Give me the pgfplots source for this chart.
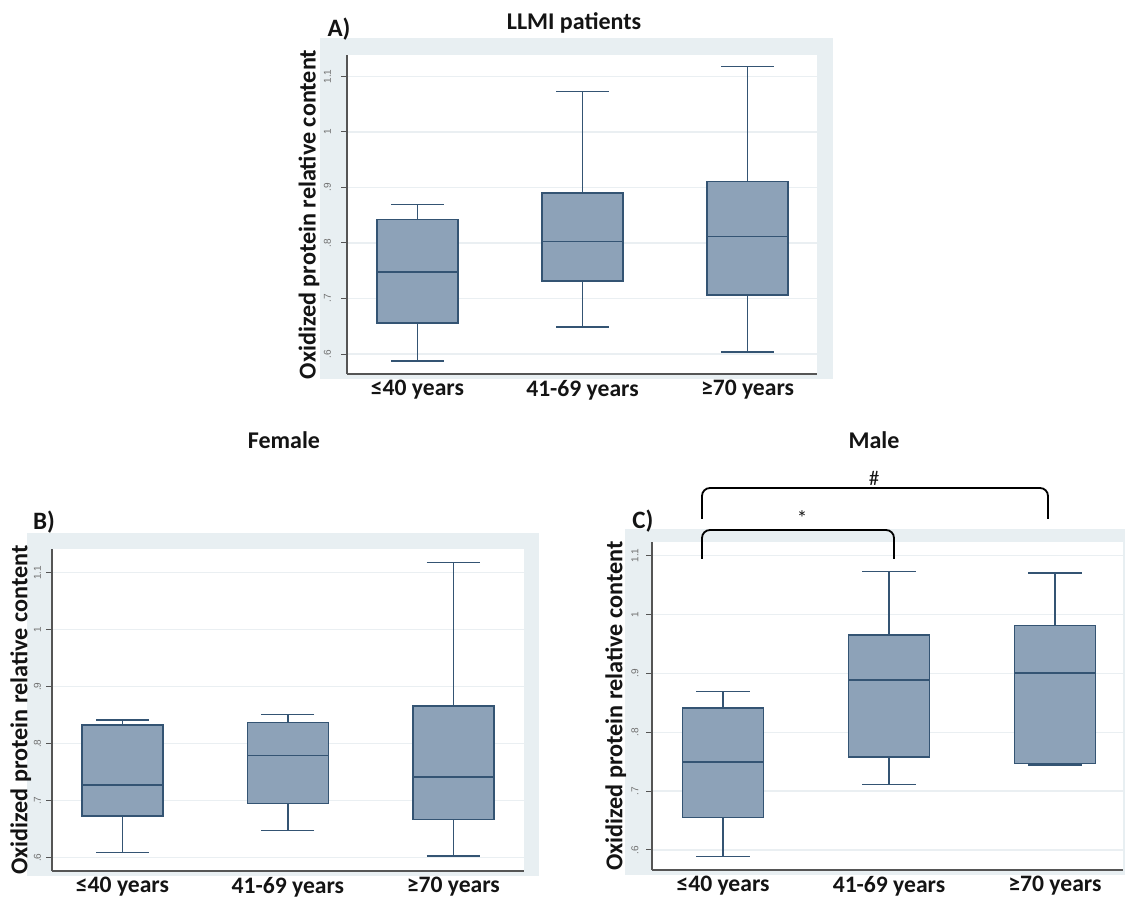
\documentclass[border=0pt]{standalone}
\usepackage{fontspec}
\setmainfont{Carlito}
\newfontfamily\tickfont{Liberation Sans}
\usepackage{pgfplots}
\pgfplotsset{compat=1.18}
\usepgfplotslibrary{statistics}

\definecolor{framec}{RGB}{232,239,242}
\definecolor{gridc}{RGB}{234,239,242}
\definecolor{boxfill}{RGB}{141,162,184}
\definecolor{boxedge}{RGB}{52,84,115}
\definecolor{axisc}{RGB}{85,85,85}
\definecolor{tickc}{RGB}{110,110,110}
\definecolor{txtc}{RGB}{20,20,20}

\newcommand{\rt}[1]{\rotatebox{90}{#1}}

\pgfplotsset{
  stbox/.style={
    scale only axis,
    anchor=south west,
    axis x line*=bottom, axis y line*=left,
    axis line style={axisc, line width=0.75pt},
    xtick={1,2,3},
    xticklabels={≤40 years, 41-69 years, ≥70 years},
    xtick style={draw=none},
    xticklabel style={font=\bfseries\fontsize{11.8}{14}\selectfont, text=txtc, yshift=3.5pt},
    ytick={0.6,0.7,0.8,0.9,1,1.1},
    yticklabels={\rt{.6},\rt{.7},\rt{.8},\rt{.9},\rt{1},\rt{1.1}},
    yticklabel style={font=\tickfont\fontsize{5}{5}\selectfont, text=tickc, anchor=east},
    ytick style={axisc, line width=0.5pt},
    tick align=outside, major tick length=3pt,
    ymajorgrids, major grid style={gridc, line width=0.6pt},
    axis background/.style={fill=white},
    boxplot/draw direction=y,
    ylabel={Oxidized protein relative content},
    ylabel style={font=\bfseries\fontsize{12.1}{14}\selectfont, text=txtc, anchor=center},
    clip=false,
  },
  bx/.style={fill=boxfill, draw=boxedge, line width=0.8pt},
}

\begin{document}
\begin{tikzpicture}
\useasboundingbox (0,0) rectangle (562.5pt,448.5pt);
\begin{scope}[shift={(0,448.5pt)}, x=0.5pt, y=-0.5pt]
  \fill[framec] (320,38) rectangle (833,379);
  \fill[framec] (27,533) rectangle (539,876);
  \fill[framec] (625,529) rectangle (1125,875);
\end{scope}

% Panel A
\begin{axis}[stbox, at={(173.5pt,261.5pt)}, width=235pt, height=159.5pt,
  xmin=0.573, xmax=3.421, ymin=0.564, ymax=1.1387,
  yticklabel style={xshift=-1.5pt},
  ylabel style={at={(axis description cs:-0.081,0.5)}}]
  \addplot[bx, boxplot prepared={draw position=1, lower whisker=0.587, lower quartile=0.656, median=0.748, upper quartile=0.842, upper whisker=0.869, box extend=0.49, whisker extend=0.32}] coordinates {};
  \addplot[bx, boxplot prepared={draw position=2, lower whisker=0.649, lower quartile=0.732, median=0.803, upper quartile=0.890, upper whisker=1.073, box extend=0.49, whisker extend=0.32}] coordinates {};
  \addplot[bx, boxplot prepared={draw position=3, lower whisker=0.604, lower quartile=0.706, median=0.812, upper quartile=0.911, upper whisker=1.118, box extend=0.49, whisker extend=0.32}] coordinates {};
\end{axis}

% Panel B
\begin{axis}[stbox, at={(26pt,13pt)}, width=236pt, height=161pt,
  xmin=0.574, xmax=3.427, ymin=0.5767, ymax=1.1416,
  yticklabel style={xshift=1pt},
  ylabel style={at={(axis description cs:-0.066,0.5)}}]
  \addplot[bx, boxplot prepared={draw position=1, lower whisker=0.609, lower quartile=0.673, median=0.728, upper quartile=0.833, upper whisker=0.842, box extend=0.49, whisker extend=0.32}] coordinates {};
  \addplot[bx, boxplot prepared={draw position=2, lower whisker=0.648, lower quartile=0.695, median=0.779, upper quartile=0.837, upper whisker=0.851, box extend=0.49, whisker extend=0.32}] coordinates {};
  \addplot[bx, boxplot prepared={draw position=3, lower whisker=0.603, lower quartile=0.667, median=0.742, upper quartile=0.866, upper whisker=1.118, box extend=0.49, whisker extend=0.32}] coordinates {};
\end{axis}

% Panel C
\begin{axis}[stbox, at={(326pt,13.5pt)}, width=235.5pt, height=164pt,
  xmin=0.572, xmax=3.41, ymin=0.566, ymax=1.123,
  yticklabel style={xshift=-0.25pt},
  ylabel style={at={(axis description cs:-0.077,0.5)}}]
  \addplot[bx, boxplot prepared={draw position=1, lower whisker=0.589, lower quartile=0.655, median=0.749, upper quartile=0.841, upper whisker=0.869, box extend=0.49, whisker extend=0.32}] coordinates {};
  \addplot[bx, boxplot prepared={draw position=2, lower whisker=0.711, lower quartile=0.758, median=0.889, upper quartile=0.965, upper whisker=1.073, box extend=0.49, whisker extend=0.32}] coordinates {};
  \addplot[bx, boxplot prepared={draw position=3, lower whisker=0.744, lower quartile=0.747, median=0.901, upper quartile=0.981, upper whisker=1.070, box extend=0.49, whisker extend=0.32}] coordinates {};
\end{axis}

\begin{scope}[shift={(0,448.5pt)}, x=0.5pt, y=-0.5pt]
  \node[font=\bfseries\fontsize{12}{14}\selectfont, text=txtc] at (574,23) {LLMI patients};
  \node[font=\bfseries\fontsize{12.5}{14}\selectfont, text=txtc] at (339,29) {A)};
  \node[font=\bfseries\fontsize{12}{14}\selectfont, text=txtc] at (284,440) {Female};
  \node[font=\bfseries\fontsize{12.5}{14}\selectfont, text=txtc] at (44,522) {B)};
  \node[font=\bfseries\fontsize{12}{14}\selectfont, text=txtc] at (874,440) {Male};
  \node[font=\bfseries\fontsize{12.5}{14}\selectfont, text=txtc] at (643,521) {C)};
  \draw[black, line width=0.9pt, rounded corners=4pt] (702,519) -- (702,488) -- (1048,488) -- (1048,519);
  \draw[black, line width=0.9pt, rounded corners=4pt] (702,559) -- (702,530) -- (894,530) -- (894,559);
  \node[font=\fontsize{10.5}{12}\selectfont, text=txtc] at (874,478) {\#};
  \node[font=\fontsize{10.5}{12}\selectfont, text=txtc] at (802,518) {*};
\end{scope}
\end{tikzpicture}
\end{document}
